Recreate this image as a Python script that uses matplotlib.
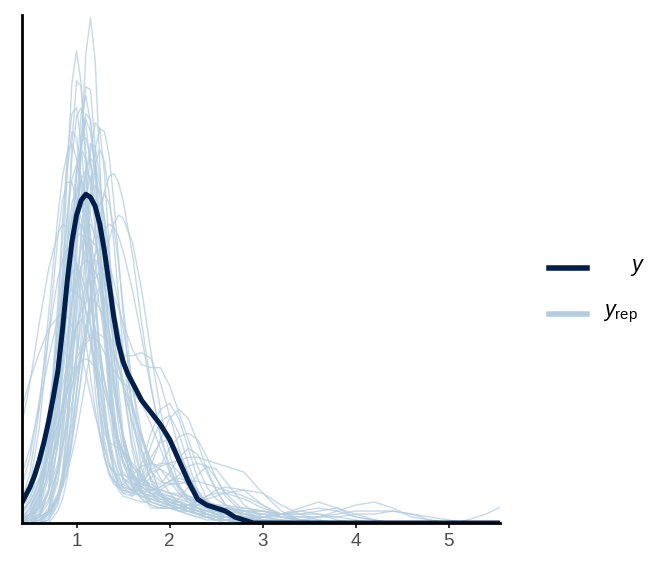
import matplotlib
matplotlib.use("Agg")
import matplotlib.pyplot as plt
from matplotlib.lines import Line2D

# densities are stored x100

# observed y: density overlay
y_x = [0.40, 0.45, 0.50, 0.55, 0.60, 0.65, 0.70, 0.75, 0.80, 0.85,
       0.90, 0.95, 1.00, 1.05, 1.10, 1.15, 1.20, 1.25, 1.30, 1.35,
       1.40, 1.45, 1.50, 1.55, 1.60, 1.70, 1.80, 1.90, 2.00, 2.10,
       2.20, 2.30, 2.40, 2.50, 2.60, 2.70, 2.80, 2.90, 3.00, 5.60]
y_dens = [6, 9, 12, 16, 21, 27, 34, 42, 51, 65,
          81, 94, 103, 108, 110, 109, 106, 100, 91, 80,
          69, 60, 54, 50, 47, 41, 37, 33, 28, 21,
          14, 8, 6, 5, 4, 2, 1, 0, 0, 0]

# replicated draws, all on one x grid
x_grid = [0.4, 0.5, 0.6, 0.7,
          0.8, 0.85, 0.9, 0.95, 1.0, 1.05, 1.1, 1.15, 1.2, 1.25, 1.3, 1.35, 1.4, 1.45, 1.5,
          1.6, 1.7, 1.8, 1.9, 2.0, 2.1, 2.2, 2.3, 2.4, 2.5, 2.6,
          2.8, 3.0, 3.2, 3.4, 3.6, 3.8, 4.0, 4.2, 4.4, 4.6, 4.8, 5.0, 5.2, 5.4, 5.6]

rep01 = [0, 1, 2, 4,
         8, 14, 28, 52, 87, 126, 157, 169, 155, 120, 85, 64, 54, 49, 46,
         38, 28, 18, 10, 6, 4, 3, 2, 1, 1, 0] + [0] * 15
rep02 = [0, 1, 2, 11,
         48, 82, 118, 147, 158, 147, 118, 84, 55, 38, 30, 27, 26, 25, 24,
         20, 16, 12, 9, 7, 6, 5, 4, 3, 2, 1] + [1] + [0] * 14
rep03 = [0, 0, 1, 4,
         18, 34, 58, 88, 117, 137, 143, 134, 115, 90, 66, 47, 35, 28, 24,
         19, 15, 12, 10, 8, 6, 5, 3, 2, 1, 1] + [0] * 15
rep04 = [0, 2, 7, 23,
         57, 79, 102, 122, 136, 139, 133, 120, 101, 80, 60, 43, 30, 20, 14,
         11, 16, 26, 34, 36, 30, 20, 11, 6, 3, 2] + [1] + [0] * 14
rep05 = [0, 0, 1, 3,
         14, 27, 47, 73, 100, 124, 137, 135, 120, 95, 69, 47, 32, 24, 20,
         16, 14, 12, 10, 9, 7, 5, 3, 2, 1, 1,
         1, 2, 3, 5, 7, 5, 2, 1, 0, 0, 0, 0, 0, 0, 0]
rep06 = [0, 0, 0, 1,
         6, 13, 23, 38, 59, 82, 106, 124, 134, 132, 117, 93, 68, 46, 30,
         16, 12, 10, 8, 7, 6, 4, 3, 2, 1, 1] + [0] * 15
rep07 = [0, 0, 0, 2,
         8, 15, 24, 37, 53, 73, 92, 111, 125, 132, 131, 123, 108, 89, 70,
         37, 18, 10, 7, 6, 5, 5, 4, 3, 2, 1] + [1] + [0] * 14
rep08 = [6, 17, 38, 70,
         103, 116, 124, 127, 122, 111, 95, 77, 60, 45, 33, 24, 18, 15, 13,
         11, 9, 8, 7, 6, 5, 4, 3, 2, 1, 1] + [1] + [0] * 14
rep09 = [0, 0, 3, 11,
         37, 57, 80, 103, 119, 125, 122, 113, 99, 83, 66, 51, 37, 27, 20,
         13, 10, 9, 8, 8, 7, 6, 4, 3, 2, 1] + [1, 1] + [0] * 13
rep10 = [0, 1, 3, 10,
         26, 40, 56, 74, 92, 108, 118, 122, 120, 113, 102, 89, 74, 59, 46,
         26, 15, 11, 12, 14, 15, 14, 11, 7, 4, 2] + [1] + [0] * 14
rep11 = [0, 3, 10, 30,
         65, 85, 103, 115, 120, 116, 106, 91, 73, 55, 40, 28, 19, 13, 10,
         9, 15, 22, 27, 28, 24, 17, 10, 5, 2, 1] + [0] * 15
rep12 = [1, 3, 9, 23,
         47, 62, 78, 93, 106, 115, 118, 115, 106, 93, 79, 63, 50, 38, 29,
         19, 15, 13, 11, 10, 9, 9, 8, 7, 6, 5] + [4, 3, 2, 1] + [0] * 11
rep13 = [0, 0, 1, 3,
         8, 12, 18, 27, 37, 49, 62, 77, 90, 102, 111, 116, 117, 114, 108,
         90, 67, 46, 29, 18, 12, 9, 7, 5, 4, 3] + [2, 1] + [0] * 13
rep14 = [0, 0, 1, 5,
         15, 24, 37, 52, 69, 85, 100, 110, 113, 110, 102, 89, 75, 60, 46,
         24, 11, 5, 5, 6, 8, 12, 16, 19, 18, 14] + [6, 2, 1] + [0] * 12
rep15 = [31, 47, 67, 85,
         97, 100, 99, 94, 85, 74, 61, 49, 38, 29, 22, 17, 14, 12, 11,
         10, 9, 8, 7, 6, 5, 4, 3, 2, 1, 1] + [0] * 15
rep16 = [0, 2, 6, 18,
         40, 55, 71, 87, 99, 106, 107, 103, 95, 85, 73, 60, 48, 37, 28,
         16, 10, 9, 11, 13, 14, 13, 10, 7, 4, 3] + [2, 1] + [0] * 13
rep17 = [0, 0, 2, 4,
         9, 12, 17, 23, 30, 39, 48, 58, 69, 79, 88, 95, 100, 103, 102,
         94, 78, 57, 38, 23, 13, 8, 6, 5, 4, 3] + [2, 1] + [0] * 13
rep18 = [1, 3, 9, 20,
         38, 49, 61, 73, 84, 92, 98, 100, 96, 84, 68, 51, 36, 24, 15,
         10, 20, 30, 38, 40, 35, 25, 15, 8, 4, 2] + [1] + [0] * 14
rep19 = [1, 3, 11, 27,
         53, 68, 81, 91, 96, 97, 94, 89, 81, 72, 63, 53, 44, 36, 29,
         18, 11, 7, 6, 5, 5, 4, 3, 3, 2, 2] + [1, 1, 1] + [0] * 12
rep20 = [0, 1, 3, 8,
         18, 26, 35, 45, 56, 67, 77, 85, 90, 92, 91, 87, 81, 74, 65,
         46, 30, 18, 10, 6, 4, 4, 6, 9, 11, 12] + [11, 6, 2, 1] + [0] * 11
rep21 = [2, 5, 12, 24,
         43, 53, 64, 73, 81, 86, 88, 87, 84, 80, 75, 68, 61, 53, 46,
         33, 22, 15, 10, 7, 6, 5, 5, 4, 3, 2,
         2, 1, 1, 1, 2, 4, 6, 7, 5, 2, 1, 0, 0, 0, 0]
rep22 = [3, 8, 19, 38,
         61, 71, 80, 84, 85, 83, 78, 72, 65, 57, 48, 40, 32, 26, 21,
         14, 10, 9, 9, 8, 7, 6, 5, 4, 3, 2] + [1, 1] + [0] * 13
rep23 = [1, 2, 5, 11,
         20, 26, 33, 40, 49, 57, 64, 71, 76, 79, 80, 79, 76, 72, 67,
         58, 53, 52, 52, 46, 37, 28, 19, 12, 8, 6] + [3, 1] + [0] * 13
rep24 = [3, 7, 14, 24,
         38, 46, 53, 60, 66, 71, 74, 75, 74, 72, 68, 64, 58, 52, 46,
         34, 24, 17, 14, 13, 13, 14, 14, 13, 12, 11] + [9, 6, 3, 1] + [0] * 11
rep25 = [0, 2, 5, 15,
         31, 41, 51, 60, 66, 68, 66, 61, 54, 46, 37, 29, 22, 16, 12,
         9, 12, 19, 28, 35, 38, 35, 27, 18, 11, 6] + [2, 1] + [0] * 13
rep26 = [5, 9, 15, 23,
         33, 39, 44, 50, 55, 58, 61, 63, 64, 63, 62, 60, 56, 53, 48,
         39, 29, 21, 15, 10, 7, 6, 6, 6, 5, 5,
         4, 4, 3, 3, 4, 5, 3, 1, 0, 0, 0, 0, 0, 0, 0]
rep27 = [37, 48, 57, 65,
         69, 70, 69, 66, 62, 56, 50, 43, 36, 30, 25, 20, 17, 14, 12,
         11, 11, 10, 10, 9, 8, 7, 6, 6, 5, 5,
         4, 4, 3, 3, 3, 2, 1, 0, 0, 0, 0, 0, 0, 0, 0]
rep28 = [4, 7, 14, 23,
         33, 39, 44, 49, 52, 54, 55, 54, 52, 49, 44, 39, 33, 28, 23,
         16, 13, 15, 19, 25, 29, 30, 28, 22, 15, 9] + [3, 1] + [0] * 13
rep29 = [0, 0, 1, 3,
         9, 14, 20, 28, 38, 49, 61, 73, 84, 92, 98, 100, 99, 96, 91,
         78, 62, 45, 30, 19, 12, 8, 7, 6, 5, 5,
         5, 4, 3, 2, 2, 3, 4, 4, 4, 3, 1, 0, 0, 0, 0]
rep30 = [0, 1, 7, 24,
         56, 76, 94, 107, 112, 109, 101, 89, 74, 59, 47, 36, 27, 21, 17,
         13, 13, 12, 11, 10, 9, 8, 7, 6, 5, 4,
         3, 2, 2, 1, 1, 0, 0, 0, 0, 0, 0, 0, 1, 3, 6]
rep31 = [0, 0, 1, 4,
         10, 16, 24, 33, 44, 55, 66, 76, 82, 84, 83, 79, 73, 65, 57,
         40, 28, 20, 19, 20, 21, 22, 22, 21, 20, 19] + [17, 10, 4, 1] + [0] * 11
rep32 = [0, 0, 6, 26,
         69, 96, 118, 131, 129, 115, 90, 66, 45, 30, 22, 17, 14, 13, 12,
         11, 9, 7, 6, 5, 4, 3, 2, 2, 1, 1] + [0] * 15
rep33 = [0, 0, 0, 1,
         9, 17, 31, 50, 73, 97, 116, 127, 126, 116, 99, 78, 57, 40, 28,
         12, 15, 18, 20, 20, 17, 12, 8, 5, 3, 2] + [1] + [0] * 14
rep34 = [0, 0, 2, 11,
         33, 52, 74, 97, 116, 128, 129, 122, 109, 91, 72, 54, 39, 28, 20,
         12, 8, 6, 5, 5, 4, 4, 3, 3, 2, 2] + [1, 1] + [0] * 13
rep35 = [4, 13, 32, 63,
         96, 108, 114, 114, 108, 97, 82, 66, 51, 38, 28, 20, 15, 11, 9,
         8, 7, 7, 6, 6, 5, 4, 3, 2, 2, 1] + [1] + [0] * 14
rep36 = [0, 0, 0, 1,
         7, 17, 35, 63, 97, 128, 146, 145, 126, 97, 68, 45, 28, 19, 15,
         12, 10, 9, 8, 7, 6, 5, 4, 3, 2, 2] + [1] + [0] * 14
rep37 = [0, 2, 8, 30,
         74, 101, 123, 137, 139, 127, 106, 80, 55, 36, 22, 16, 13, 12, 13,
         16, 19, 20, 18, 14, 10, 7, 5, 3, 2, 1] + [0] * 15
rep38 = [0, 0, 2, 7,
         19, 30, 44, 61, 79, 96, 109, 116, 117, 110, 94, 76, 57, 40, 27,
         12, 8, 6, 5, 5, 5, 6, 7, 9, 10, 10] + [8, 5, 3, 1] + [0] * 11
rep39 = [1, 4, 12, 28,
         52, 66, 79, 90, 97, 100, 98, 94, 87, 78, 67, 56, 46, 37, 29,
         17, 10, 8, 7, 7, 6, 6, 5, 5, 4, 4,
         3, 3, 2, 2, 2, 2, 3, 3, 4, 3, 2, 1, 0, 0, 0]
rep40 = [0, 0, 0, 3,
         8, 13, 21, 31, 44, 57, 73, 87, 99, 107, 110, 107, 99, 87, 73,
         46, 25, 14, 13, 17, 22, 25, 23, 17, 11, 6] + [2, 1] + [0] * 13
rep41 = [11, 22, 41, 63,
         82, 88, 92, 91, 87, 80, 71, 60, 50, 41, 33, 26, 21, 17, 15,
         13, 12, 11, 11, 10, 10, 9, 8, 7, 6, 5,
         4, 3, 3, 4, 5, 4, 2, 1, 0, 0, 0, 0, 0, 0, 0]
rep42 = [0, 0, 0, 4,
         18, 34, 56, 82, 108, 128, 135, 131, 119, 102, 82, 63, 46, 33, 24,
         15, 12, 10, 9, 8, 7, 6, 5, 4, 3, 2] + [1] + [0] * 14
rep43 = [1, 3, 8, 16,
         29, 37, 46, 56, 64, 73, 80, 85, 88, 87, 85, 80, 73, 65, 57,
         39, 24, 14, 9, 7, 6, 6, 7, 8, 9, 10] + [11, 10, 6, 3, 1] + [0] * 10
rep44 = [0, 0, 0, 4,
         28, 55, 91, 127, 148, 146, 124, 91, 62, 38, 25, 19, 17, 16, 16,
         15, 13, 11, 9, 7, 5, 4, 3, 2, 1, 1] + [0] * 15
rep45 = [0, 1, 4, 11,
         27, 38, 50, 63, 75, 86, 92, 95, 93, 88, 80, 71, 63, 58, 56,
         56, 57, 55, 47, 36, 25, 16, 10, 6, 4, 3] + [2, 1] + [0] * 13
rep46 = [0, 1, 5, 18,
         44, 62, 82, 98, 110, 115, 110, 97, 78, 58, 40, 26, 17, 12, 10,
         11, 14, 17, 18, 16, 12, 8, 5, 3, 2, 1] + [0] * 15
rep47 = [0, 0, 0, 0,
         4, 8, 15, 27, 43, 62, 85, 105, 120, 125, 121, 110, 94, 76, 58,
         30, 15, 9, 7, 6, 5, 5, 4, 4, 3, 3] + [2, 2, 3, 4, 3, 1] + [0] * 9
rep48 = [15, 25, 39, 55,
         69, 74, 77, 78, 77, 75, 71, 66, 61, 54, 47, 41, 34, 28, 23,
         15, 10, 8, 7, 7, 7, 8, 8, 7, 6, 5] + [3, 2, 1] + [0] * 12
rep49 = [3, 6, 11, 18,
         28, 34, 40, 46, 51, 56, 60, 62, 62, 60, 57, 54, 51, 49, 47,
         44, 40, 33, 25, 17, 11, 8, 6, 6, 6, 6] + [5, 4, 2, 1] + [0] * 11
rep50 = [1, 5, 14, 34,
         64, 79, 93, 102, 105, 102, 93, 79, 64, 49, 35, 25, 17, 13, 11,
         10, 10, 11, 12, 14, 16, 19, 20, 19, 15, 10] + [4, 1] + [0] * 13

yrep_curves = [rep01, rep02, rep03, rep04, rep05, rep06, rep07, rep08, rep09, rep10,
               rep11, rep12, rep13, rep14, rep15, rep16, rep17, rep18, rep19, rep20,
               rep21, rep22, rep23, rep24, rep25, rep26, rep27, rep28, rep29, rep30,
               rep31, rep32, rep33, rep34, rep35, rep36, rep37, rep38, rep39, rep40,
               rep41, rep42, rep43, rep44, rep45, rep46, rep47, rep48, rep49, rep50]

legend_labels = [r'$y$', r'$y_{\rm rep}$']

DARK = '#011f4b'
LIGHT = '#b3cde0'

plt.rcParams['font.family'] = 'Liberation Sans'
plt.rcParams['mathtext.fontset'] = 'custom'
plt.rcParams['mathtext.it'] = 'Liberation Sans:italic'
plt.rcParams['mathtext.rm'] = 'Liberation Sans'


def main():
    for i, c in enumerate(yrep_curves):
        if len(c) != len(x_grid):
            print('curve', i + 1, 'has', len(c), 'points')

    fig = plt.figure(figsize=(6.72, 5.76), dpi=100)
    ax = fig.add_axes([22 / 672, 53 / 576, 478 / 672, 508 / 576])

    for c in yrep_curves:
        ax.plot(x_grid, [v / 100 for v in c], color=LIGHT, lw=1.0, alpha=0.75,
                solid_joinstyle='round')
    ax.plot(y_x, [v / 100 for v in y_dens], color=DARK, lw=3.6,
            solid_capstyle='round', solid_joinstyle='round')

    ax.set_xlim(0.414, 5.55)
    ax.set_ylim(0, 1.70)
    for s in ['top', 'right']:
        ax.spines[s].set_visible(False)
    for s in ['left', 'bottom']:
        ax.spines[s].set_linewidth(2.0)
        ax.spines[s].set_color('black')
    ax.set_yticks([])
    ax.set_xticks([1, 2, 3, 4, 5])
    ax.tick_params(axis='x', length=3.5, width=1.4, color='#333333',
                   labelcolor='#4d4d4d', labelsize=13.5, pad=4)

    # legend drawn by hand on the right
    fig.add_artist(Line2D([549 / 672, 587 / 672], [1 - 268 / 576] * 2,
                          color=DARK, lw=4, transform=fig.transFigure))
    fig.add_artist(Line2D([549 / 672, 587 / 672], [1 - 314 / 576] * 2,
                          color=LIGHT, lw=4, transform=fig.transFigure))
    fig.text(630 / 672, 1 - 268 / 576, legend_labels[0], fontsize=15.5, va='center')
    fig.text(603 / 672, 1 - 314 / 576, legend_labels[1], fontsize=15.5, va='center')

    fig.savefig('out.png', dpi=100)


if __name__ == '__main__':
    main()
